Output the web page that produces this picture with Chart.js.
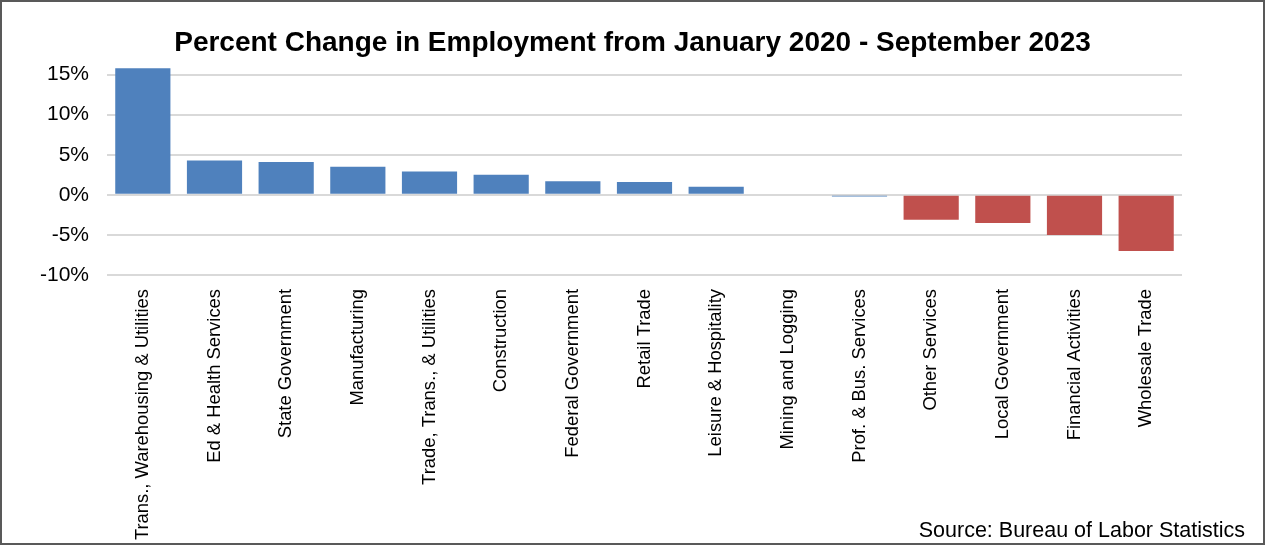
<!DOCTYPE html>
<html>
<head>
<meta charset="utf-8">
<script src="https://cdn.jsdelivr.net/npm/chart.js@4"></script>
<style>
  body { margin: 0; background: #fff; }
  #wrap { width: 1265px; height: 545px; box-sizing: border-box; border: 2px solid #595959; position: relative; }
</style>
</head>
<body>
<div id="wrap"><canvas id="myChart"></canvas></div>
<script>
const sectors = ['Trans., Warehousing & Utilities', 'Ed & Health Services', 'State Government', 'Manufacturing',
  'Trade, Trans., & Utilities', 'Construction', 'Federal Government', 'Retail Trade', 'Leisure & Hospitality',
  'Mining and Logging', 'Prof. & Bus. Services', 'Other Services', 'Local Government', 'Financial Activities',
  'Wholesale Trade'];
const pctChange = [15.8, 4.3, 4.1, 3.5, 2.9, 2.5, 1.7, 1.6, 1.0, 0.0, -0.2, -3.1, -3.5, -5.0, -7.0];
const yTicks = [-10, -5, 0, 5, 10, 15];

Chart.defaults.font.family = '"Liberation Sans", Arial, sans-serif';
Chart.defaults.color = '#000';

const sourceNote = {
  id: 'sourceNote',
  afterDraw(chart) {
    const c = chart.ctx;
    c.save();
    c.font = '21.5px "Liberation Sans", Arial, sans-serif';
    c.fillStyle = '#000';
    c.textAlign = 'right';
    c.textBaseline = 'alphabetic';
    c.fillText('Source: Bureau of Labor Statistics', chart.width - 18, chart.height - 6);
    c.restore();
  }
};

new Chart(document.getElementById('myChart'), {
  type: 'bar',
  data: {
    labels: sectors,
    datasets: [{
      data: pctChange,
      backgroundColor: ctx => ctx.raw < -1 ? '#C0504D' : '#4F81BD',
      barPercentage: 0.77,
      categoryPercentage: 1
    }]
  },
  options: {
    responsive: true,
    maintainAspectRatio: false,
    animation: false,
    layout: { padding: { left: 0, right: 0, top: 0, bottom: -5 } },
    plugins: {
      legend: { display: false },
      tooltip: { enabled: false },
      title: {
        display: true,
        text: 'Percent Change in Employment from January 2020 - September 2023',
        font: { size: 28, weight: 'bold' },
        color: '#000',
        padding: { top: 24, bottom: 7 }
      }
    },
    scales: {
      x: {
        grid: { display: false, drawTicks: false },
        border: { display: false },
        ticks: {
          autoSkip: false,
          maxRotation: 90,
          minRotation: 90,
          padding: 14,
          font: { size: 18.4 }
        }
      },
      y: {
        min: -10,
        max: 16,
        afterBuildTicks: axis => { axis.ticks = yTicks.map(v => ({ value: v })); },
        afterFit: axis => { axis.width = 105; },
        grid: { color: '#d9d9d9', lineWidth: 2, drawTicks: false },
        border: { display: false },
        ticks: {
          padding: 18,
          font: { size: 21 },
          callback: v => v + '%'
        }
      },
      yRight: {
        position: 'right',
        afterFit: axis => { axis.width = 81; },
        grid: { display: false, drawTicks: false },
        border: { display: false },
        ticks: { display: false }
      }
    }
  },
  plugins: [sourceNote]
});
</script>
</body>
</html>
